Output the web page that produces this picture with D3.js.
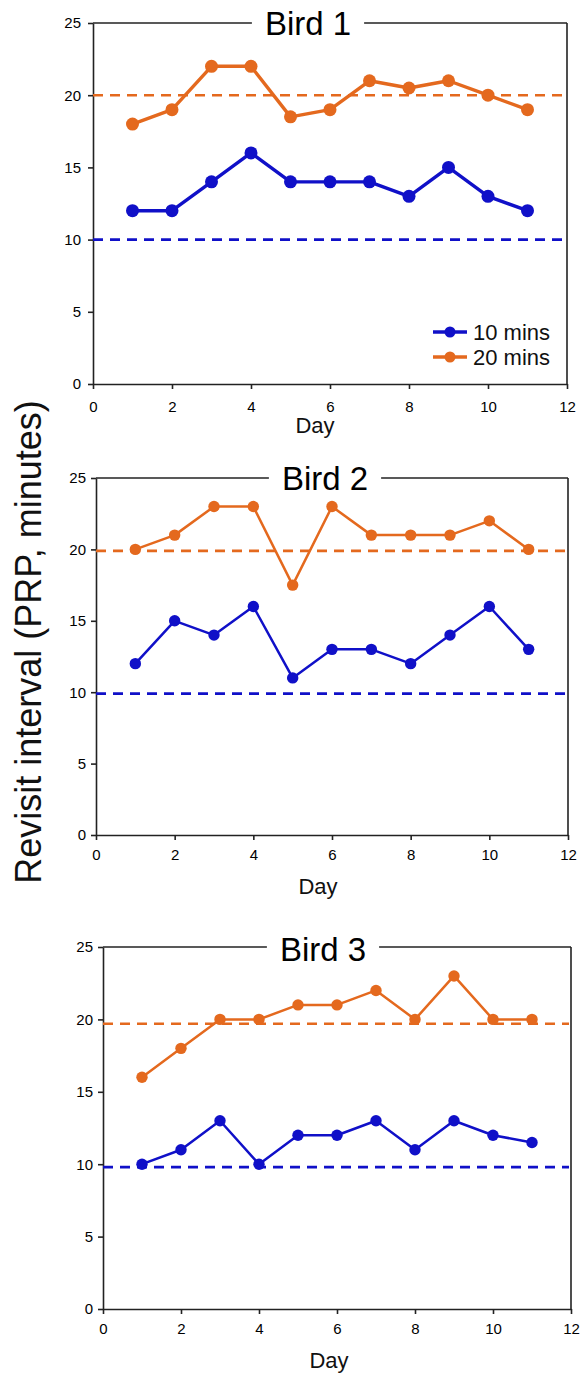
<!DOCTYPE html>
<html>
<head>
<meta charset="utf-8">
<script src="https://cdn.jsdelivr.net/npm/d3@7"></script>
<style>
  body { margin: 0; background: #fff; }
  svg { display: block; font-family: "Liberation Sans", Arial, sans-serif; }
</style>
</head>
<body>
<div id="chart"></div>
<script>
// Data

var days = [1, 2, 3, 4, 5, 6, 7, 8, 9, 10, 11];

var bird1Ten    = [12, 12, 14, 16, 14, 14, 14, 13, 15, 13, 12];
var bird1Twenty = [18, 19, 22, 22, 18.5, 19, 21, 20.5, 21, 20, 19];

var bird2Ten    = [12, 15, 14, 16, 11, 13, 13, 12, 14, 16, 13];
var bird2Twenty = [20, 21, 23, 23, 17.5, 23, 21, 21, 21, 22, 20];

var bird3Ten    = [10, 11, 13, 10, 12, 12, 13, 11, 13, 12, 11.5];
var bird3Twenty = [16, 18, 20, 20, 21, 21, 22, 20, 23, 20, 20];

// programmed intervals (dashed reference lines)
var bird1Ref = [10, 20];
var bird2Ref = [9.9, 19.9];
var bird3Ref = [9.8, 19.7];

var titles = ["Bird 1", "Bird 2", "Bird 3"];
var seriesNames = ["10 mins", "20 mins"];
var xTicks = [0, 2, 4, 6, 8, 10, 12];
var yTicks = [0, 5, 10, 15, 20, 25];

var blue = "#1010c8";
var orange = "#e4691e";
var axisColor = "#222";

// Layout of each panel (pixels on the page)
var panels = [
  {title: titles[0], ten: bird1Ten, twenty: bird1Twenty, ref: bird1Ref,
   left: 93, right: 567, top: 23, bottom: 384,
   titleX: 308, titleY: 35, dayX: 315, dayY: 433, tickGap: 12, xLabY: 28,
   lineW: 3.4, r: 6.5, legend: true},
  {title: titles[1], ten: bird2Ten, twenty: bird2Twenty, ref: bird2Ref,
   left: 96, right: 568, top: 478, bottom: 835,
   titleX: 325, titleY: 490, dayX: 318, dayY: 894, tickGap: 10, xLabY: 25,
   lineW: 2.5, r: 5.7, legend: false},
  {title: titles[2], ten: bird3Ten, twenty: bird3Twenty, ref: bird3Ref,
   left: 103, right: 571, top: 947, bottom: 1309,
   titleX: 323, titleY: 961, dayX: 329, dayY: 1368, tickGap: 10, xLabY: 25,
   lineW: 2.5, r: 5.7, legend: false}
];

var svg = d3.select("#chart")
  .append("svg")
  .attr("width", 581)
  .attr("height", 1373);

panels.forEach(function(p) {
  var g = svg.append("g");

  var xScale = d3.scaleLinear().domain([0, 12]).range([p.left, p.right]);
  var yScale = d3.scaleLinear().domain([0, 25]).range([p.bottom, p.top]);

  // Axes
  var xAxis = g.append("g")
    .attr("transform", `translate(0, ${p.bottom})`)
    .call(d3.axisBottom(xScale).tickValues(xTicks).tickSize(5).tickSizeOuter(0).tickPadding(p.xLabY - 16));

  var yAxis = g.append("g")
    .attr("transform", `translate(${p.left}, 0)`)
    .call(d3.axisLeft(yScale).tickValues(yTicks).tickSize(5).tickSizeOuter(0).tickPadding(p.tickGap - 5));

  g.selectAll(".domain, .tick line")
    .attr("stroke", axisColor)
    .attr("stroke-width", 1.6);
  g.selectAll(".tick text")
    .attr("fill", "#000")
    .style("font-size", "15px")
    .style("font-family", "Liberation Sans, Arial, sans-serif");

  // Title
  var title = g.append("text")
    .attr("x", p.titleX)
    .attr("y", p.titleY)
    .attr("text-anchor", "middle")
    .style("font-size", "33px")
    .attr("fill", "#000")
    .text(p.title);
  var tb = title.node().getBBox();

  // Frame: right side and top with a gap for the title
  g.append("line")
    .attr("x1", p.right).attr("x2", p.right)
    .attr("y1", p.top).attr("y2", p.bottom)
    .attr("stroke", axisColor).attr("stroke-width", 1.6);
  g.append("line")
    .attr("x1", p.left).attr("x2", tb.x - 13)
    .attr("y1", p.top).attr("y2", p.top)
    .attr("stroke", axisColor).attr("stroke-width", 1.6);
  g.append("line")
    .attr("x1", tb.x + tb.width + 13).attr("x2", p.right)
    .attr("y1", p.top).attr("y2", p.top)
    .attr("stroke", axisColor).attr("stroke-width", 1.6);

  // Reference dashed lines
  g.selectAll(".ref")
    .data(p.ref)
    .enter().append("line")
    .attr("x1", p.left)
    .attr("x2", p.right - 2)
    .attr("y1", function(d) { return yScale(d); })
    .attr("y2", function(d) { return yScale(d); })
    .attr("stroke", function(d, i) { return i === 0 ? blue : orange; })
    .attr("stroke-width", 2.6)
    .attr("stroke-dasharray", "10,7");

  // Series
  var series = [
    {values: p.ten, color: blue},
    {values: p.twenty, color: orange}
  ];

  var line = d3.line()
    .x(function(d, i) { return xScale(days[i]); })
    .y(function(d) { return yScale(d); });

  series.forEach(function(s) {
    g.append("path")
      .datum(s.values)
      .attr("fill", "none")
      .attr("stroke", s.color)
      .attr("stroke-width", p.lineW)
      .attr("stroke-linejoin", "round")
      .attr("d", line);

    g.selectAll(null)
      .data(s.values)
      .enter().append("circle")
      .attr("cx", function(d, i) { return xScale(days[i]); })
      .attr("cy", function(d) { return yScale(d); })
      .attr("r", p.r)
      .attr("fill", s.color);
  });

  // Day label
  g.append("text")
    .attr("x", p.dayX)
    .attr("y", p.dayY)
    .attr("text-anchor", "middle")
    .style("font-size", "22px")
    .attr("fill", "#111")
    .text("Day");

  // Legend (first panel only)
  if (p.legend) {
    var leg = g.append("g");
    seriesNames.forEach(function(name, i) {
      var cy = 332 + i * 25;
      var c = i === 0 ? blue : orange;
      leg.append("line")
        .attr("x1", 433).attr("x2", 467)
        .attr("y1", cy).attr("y2", cy)
        .attr("stroke", c).attr("stroke-width", 3.4);
      leg.append("circle")
        .attr("cx", 450).attr("cy", cy).attr("r", 5.5).attr("fill", c);
      leg.append("text")
        .attr("x", 473).attr("y", cy + 7.5)
        .style("font-size", "22px")
        .attr("fill", "#111")
        .text(name);
    });
  }
});

// Shared y label
svg.append("text")
  .attr("transform", "translate(41, 642) rotate(-90)")
  .attr("text-anchor", "middle")
  .style("font-size", "36px")
  .attr("fill", "#111")
  .text("Revisit interval (PRP, minutes)");
</script>
</body>
</html>
